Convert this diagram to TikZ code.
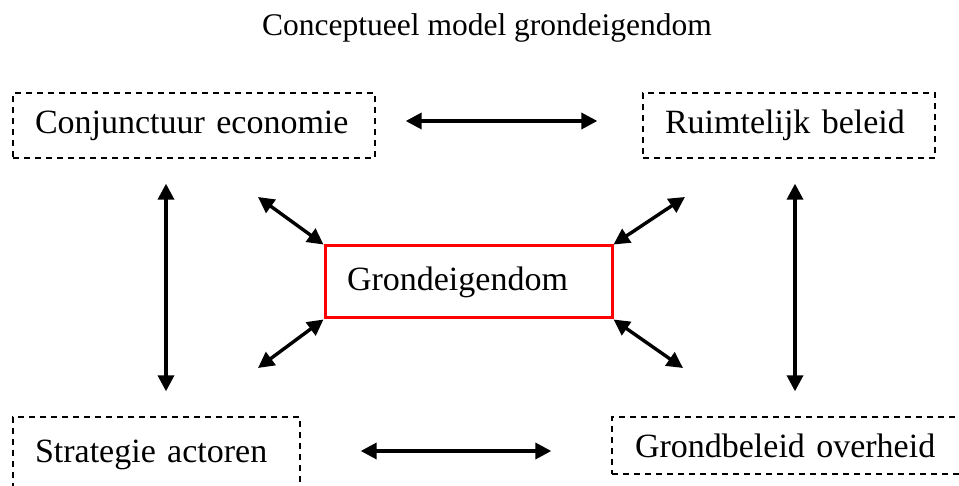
\documentclass[tikz,border=0pt]{standalone}
\usepackage{fontspec}
\setmainfont{Liberation Serif}
\usetikzlibrary{arrows.meta}

\tikzset{
  dbox/.style={draw, dashed, line width=1.3pt, dash pattern=on 6pt off 5pt,
    align=left, inner xsep=22pt, inner ysep=0pt,
    font=\fontsize{34}{40}\selectfont},
  corebox/.style={draw=red, line width=3pt, align=left,
    inner xsep=22pt, inner ysep=0pt, font=\fontsize{34}{40}\selectfont},
  arr/.style={line width=3.4pt, {Triangle[length=16pt,width=16pt]}-{Triangle[length=16pt,width=16pt]}},
  titletext/.style={font=\fontsize{31.5}{38}\selectfont}
}

\begin{document}
\begin{tikzpicture}[x=1pt,y=-1pt]
\useasboundingbox (0,0) rectangle (959,486);
\clip (0,0) rectangle (959,486);

\node[titletext] (title) at (487,28) {Conceptueel model grondeigendom};

% four surrounding factors
\node[dbox, text width=318pt, minimum height=65pt] (ce) at (194,125.5) {Conjunctuur economie};
\node[dbox, text width=248pt, minimum height=65pt] (rb) at (789,125.5) {Ruimtelijk beleid};
\node[dbox, text width=243pt, minimum height=75pt] (st) at (156.5,454.5) {\raisebox{4.5pt}{Strategie actoren}};
\node[dbox, inner xsep=23pt, text width=317pt, minimum height=57pt] (gb) at (793.5,445.5) {Grondbeleid overheid};

% central concept
\node[corebox, text width=243pt, minimum height=72pt] (g) at (468.5,282) {Grondeigendom};

% links between the factors
\draw[arr, shorten <=30pt, shorten >=45pt] ([yshift=4.5pt]ce.east) -- ([yshift=4.5pt]rb.west);
\draw[arr, shorten <=60pt, shorten >=60pt] ([yshift=3.5pt]st.east) -- ([yshift=-5.5pt]gb.west);
\draw[arr, shorten <=25pt, shorten >=25pt] ([xshift=-28pt]ce.south) -- ([xshift=9.5pt]st.north);
\draw[arr, shorten <=25pt, shorten >=25pt] ([xshift=6pt]rb.south) -- ([xshift=1.5pt]gb.north);

% links to the central concept
\coordinate (ul) at (258,197);
\coordinate (ll) at (258,368);
\coordinate (ur) at (685,197);
\coordinate (lr) at (683,368);
\draw[arr] (ul) -- (g.north west);
\draw[arr] (ll) -- (g.south west);
\draw[arr] (ur) -- (g.north east);
\draw[arr] (lr) -- (g.south east);
\end{tikzpicture}
\end{document}
